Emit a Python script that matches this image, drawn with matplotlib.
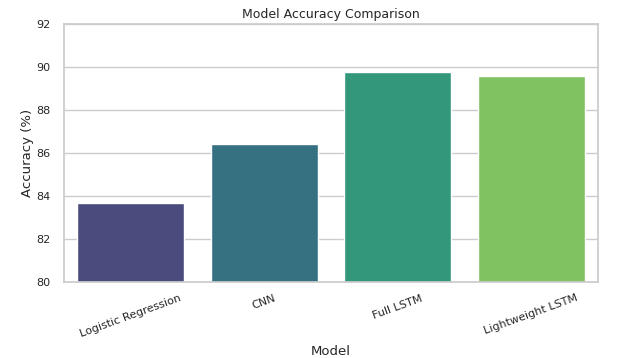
import matplotlib.pyplot as plt
import seaborn as sns

models = ["Logistic Regression", "CNN", "Full LSTM", "Lightweight LSTM"]
accuracy = [83.67, 86.42, 89.75, 89.58]

sns.set_theme(style="whitegrid")
plt.rcParams['font.family'] = ['DejaVu Sans']

fig, ax = plt.subplots(figsize=(6.34, 3.58), dpi=100)
colors = sns.color_palette("viridis", len(models))
colors = [sns.desaturate(c, 0.75) for c in colors]
ax.bar(models, accuracy, color=colors, width=0.8)

ax.set_ylim(80, 92)
ax.set_xlim(-0.5, len(models) - 0.5)
ax.set_title("Model Accuracy Comparison", fontsize=9, pad=4)
ax.set_xlabel("Model", fontsize=9.5, labelpad=4)
ax.set_ylabel("Accuracy (%)", fontsize=9.5, labelpad=2)
ax.tick_params(axis='x', labelrotation=20, labelsize=8, pad=2)
ax.tick_params(axis='y', labelsize=8)
ax.xaxis.grid(False)
ax.set_axisbelow(True)

fig.subplots_adjust(left=0.101, right=0.943, top=0.933, bottom=0.212)
fig.savefig("out.png", dpi=100)
